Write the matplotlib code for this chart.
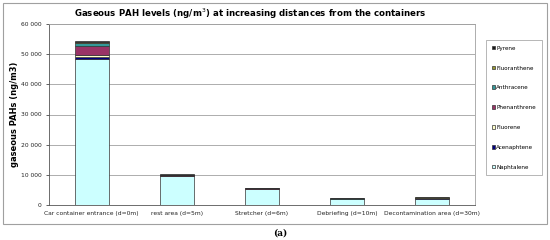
import numpy as np
import matplotlib
matplotlib.use("Agg")
import matplotlib.pyplot as plt
from matplotlib.patches import Rectangle
from matplotlib.ticker import FuncFormatter

sites = ["Car container entrance (d=0m)", "rest area (d=5m)", "Stretcher (d=6m)",
         "Debriefing (d=10m)", "Decontamination area (d=30m)"]
compounds = ["Naphtalene", "Acenaphtene", "Fluorene", "Phenanthrene",
             "Anthracene", "Fluoranthene", "Pyrene"]
naphtalene = [48400, 9500, 5200, 1900, 2150]
acenaphtene = [550, 60, 30, 20, 20]
fluorene = [900, 50, 40, 30, 30]
phenanthrene = [3000, 350, 250, 200, 220]
anthracene = [900, 80, 50, 40, 40]
fluoranthene = [150, 60, 40, 40, 40]
pyrene = [300, 250, 180, 180, 180]

series = [naphtalene, acenaphtene, fluorene, phenanthrene, anthracene, fluoranthene, pyrene]
colors = ["#CCFFFF", "#000080", "#FFFFCC", "#993366", "#339999", "#999933", "#1a1a1a"]

fig = plt.figure(figsize=(5.5, 2.4), dpi=100)
fig.patches.append(Rectangle((3 / 550, 1 - 224 / 240), 544 / 550, 221 / 240,
                             transform=fig.transFigure, fill=False,
                             edgecolor="#a0a0a0", linewidth=0.8))
ax = fig.add_axes([49 / 550, 1 - 205 / 240, 426 / 550, 181 / 240])

x = np.arange(len(sites))
bottom = np.zeros(len(sites))
for name, vals, c in zip(compounds, series, colors):
    ax.bar(x, vals, 0.4, bottom=bottom, color=c, edgecolor="#333333",
           linewidth=0.5, label=name, zorder=3)
    bottom += np.array(vals)

ax.set_xlim(-0.5, len(sites) - 0.5)
ax.set_ylim(0, 60000)
ax.set_yticks(np.arange(0, 60001, 10000))
ax.yaxis.set_major_formatter(FuncFormatter(lambda v, p: f"{int(v):,}".replace(",", " ")))
ax.set_xticks(x)
ax.set_xticklabels(sites, fontsize=4.3, color="#222222")
ax.tick_params(axis="y", labelsize=4.3, length=2, width=0.5, colors="#222222")
ax.tick_params(axis="x", length=0, pad=4)
ax.grid(axis="y", color="#a0a0a0", linewidth=0.6, zorder=0)
for s in ax.spines.values():
    s.set_color("#a0a0a0")
    s.set_linewidth(0.6)
ax.spines["left"].set_color("#555555")
ax.spines["bottom"].set_color("#555555")

ax.set_ylabel("gaseous PAHs (ng/m3)", fontsize=6, fontweight="bold", labelpad=1)
fig.text(0.455, 1 - 14 / 240, "Gaseous PAH levels (ng/m$^3$) at increasing distances from the containers",
         ha="center", va="center", fontsize=6.2, fontweight="bold")

h, l = ax.get_legend_handles_labels()
leg = fig.legend(h[::-1], l[::-1], loc="upper left",
                 bbox_to_anchor=(486 / 550, 1 - 40 / 240), fontsize=4.1,
                 frameon=True, fancybox=False, edgecolor="#808080",
                 handlelength=0.6, handleheight=0.6, handletextpad=0.2,
                 labelspacing=2.6, borderpad=1.0, borderaxespad=0)
leg.get_frame().set_linewidth(0.5)

fig.text(280 / 550, 1 - 233 / 240, "(a)", ha="center", va="center",
         fontsize=6.5, fontweight="bold", family="DejaVu Serif")

fig.savefig("out.png", dpi=100)
